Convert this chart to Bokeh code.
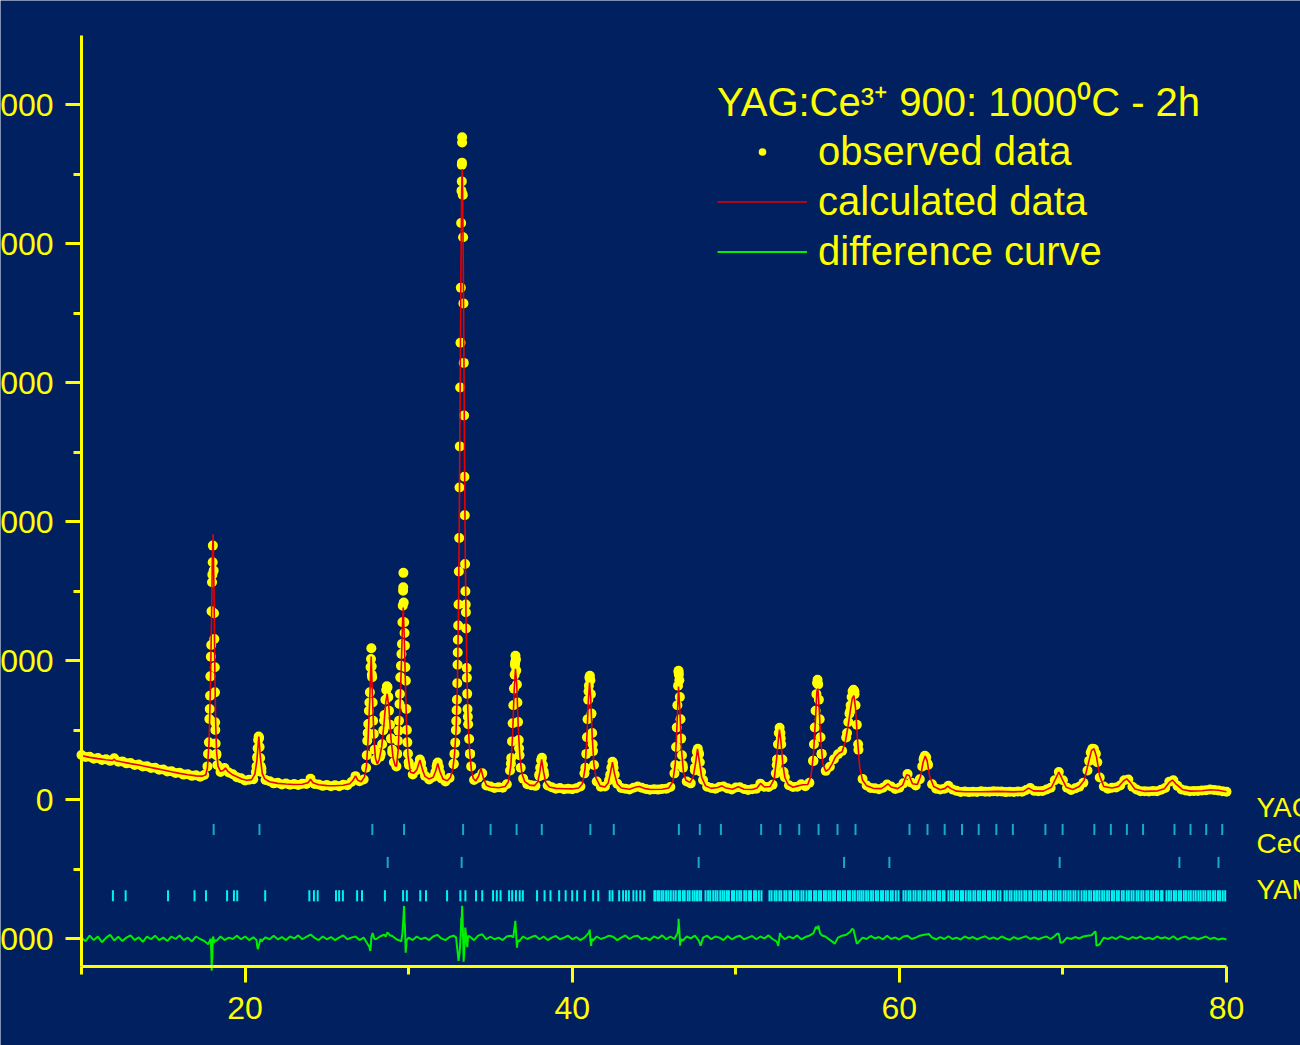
import numpy as np
from bokeh.plotting import figure
from bokeh.models import (Label, LinearAxis, FixedTicker, Legend, LegendItem, Range1d)
from bokeh.embed import file_html
from bokeh.resources import INLINE

# ---------------- data ----------------
x_major = [20, 40, 60, 80]
x_minor = [10, 30, 50, 70]
y_major = [-1000, 0, 1000, 2000, 3000, 4000, 5000]
y_minor = [-500, 500, 1500, 2500, 3500, 4500]
x_axis_span = (10, 80)
y_axis_span = (-1200, 5500)

# observed scan (2-theta from 10.00 in 0.25 deg steps)
scan_start, scan_step = 10.0, 0.25
obs_scan = [
    322, 308, 310, 296, 300, 287, 292, 280, 298, 274,
    276, 262, 264, 250, 254, 240, 242, 228, 230, 216,
    218, 204, 206, 192, 194, 181, 184, 172, 176, 166,
    178, 330, 1620, 330, 200, 228, 196, 184, 162, 154,
    138, 144, 148, 310, 225, 142, 134, 118, 122, 110,
    117, 108, 114, 106, 116, 114, 152, 114, 110, 100,
    106, 97, 105, 98, 108, 104, 128, 170, 134, 146,
    480, 900, 285, 310, 570, 740, 360, 240, 880, 1200,
    270, 182, 215, 266, 172, 146, 164, 258, 154, 132,
    156, 255, 1060, 4450, 1350, 330, 142, 158, 190, 102,
    95, 85, 90, 86, 112, 260, 970, 370, 152, 112,
    104, 100, 170, 205, 102, 90, 80, 84, 76, 80,
    75, 83, 95, 190, 780, 400, 132, 94, 95, 140,
    262, 116, 84, 80, 74, 86, 96, 86, 78, 72,
    76, 73, 78, 79, 92, 190, 920, 250, 132, 118,
    212, 330, 142, 94, 84, 80, 92, 96, 82, 74,
    88, 90, 78, 70, 76, 80, 116, 93, 92, 108,
    250, 440, 162, 104, 92, 94, 112, 98, 122, 280,
    840, 330, 208, 238, 292, 328, 352, 448, 640, 780,
    360, 150, 102, 84, 82, 76, 86, 110, 96, 78,
    86, 118, 185, 122, 102, 148, 300, 250, 112, 80,
    74, 80, 100, 74, 64, 56, 60, 55, 58, 56,
    62, 57, 58, 61, 60, 59, 55, 58, 56, 59,
    57, 70, 84, 64, 62, 63, 74, 86, 140, 200,
    140, 86, 70, 82, 94, 122, 210, 350, 330, 160,
    96, 80, 86, 88, 102, 140, 146, 94, 74, 62,
    61, 59, 63, 62, 72, 84, 130, 140, 100, 74,
    66, 61, 63, 63, 67, 69, 73, 70, 67, 62,
    58]

# observed points on the peaks (finer sampling)
obs_peak_tt = [
    17.70, 17.75, 17.79, 17.82, 17.84, 17.86, 17.88, 17.91, 17.93, 17.95,
    17.98, 18.02, 18.03, 18.08, 18.10, 18.12, 18.15, 18.16, 18.17, 18.18, 18.20, 18.24, 18.30,
    20.66, 20.70, 20.74, 20.77, 20.80, 20.83, 20.86, 20.89, 20.92, 20.96, 21.00,
    27.40, 27.44, 27.47, 27.50, 27.53, 27.57, 27.60, 27.63, 27.67, 27.70, 27.72, 27.74, 27.77, 27.80, 27.83, 27.87, 27.92, 27.98,
    28.30, 28.38, 28.45, 28.52, 28.58, 28.63, 28.67, 28.71, 28.75, 28.80, 28.86, 28.92, 29.00, 29.10,
    29.30, 29.34, 29.38, 29.41, 29.44, 29.47, 29.50, 29.53, 29.56, 29.59,
    29.62, 29.64, 29.66, 29.67, 29.68, 29.70, 29.73, 29.77, 29.80, 29.83,
    29.86, 29.89, 29.92, 29.96, 30.02,
    30.55, 30.62, 30.69, 30.76, 30.84, 31.64, 31.71, 31.78, 31.85, 31.92,
    32.75, 32.80, 32.85, 32.89, 32.91, 32.93, 32.95, 32.97, 32.99, 33.01,
    33.03, 33.05, 33.07, 33.09, 33.11, 33.13, 33.15, 33.17, 33.19, 33.21,
    33.23, 33.25, 33.26, 33.27, 33.27,
    33.31, 33.33, 33.35, 33.37, 33.39, 33.41, 33.43, 33.45, 33.47, 33.49,
    33.51, 33.55, 33.56, 33.58, 33.60, 33.62, 33.64, 33.70, 33.76, 33.82,
    36.20, 36.27, 36.32, 36.36, 36.40, 36.44, 36.48, 36.51, 36.53, 36.56, 36.58, 36.62, 36.65, 36.69, 36.73, 36.78, 36.85,
    37.98, 38.04, 38.10, 38.15, 38.21, 38.28,
    40.80, 40.86, 40.90, 40.94, 40.98, 41.02, 41.05, 41.08, 41.11, 41.14, 41.18, 41.22, 41.27, 41.33,
    42.32, 42.39, 42.46, 42.53, 42.60,
    46.30, 46.35, 46.39, 46.43, 46.47, 46.50, 46.52, 46.55, 46.58, 46.62, 46.66, 46.71, 46.77,
    47.50, 47.56, 47.62, 47.68, 47.74, 47.80, 47.88,
    52.45, 52.52, 52.58, 52.63, 52.68, 52.73, 52.78, 52.85, 52.92,
    54.72, 54.78, 54.83, 54.88, 54.93, 54.97, 55.00, 55.04, 55.08, 55.13, 55.18, 55.24,
    56.80, 56.88, 56.95, 57.02, 57.08, 57.14, 57.20, 57.26, 57.32, 57.40, 57.48,
    61.40, 61.48, 61.56, 61.64, 61.72,
    71.60, 71.70, 71.80, 71.90, 72.00, 72.10]
obs_peak_cnt = [
    240, 330, 413, 581, 653, 749, 888, 1030, 1114, 1356,
    1565, 1709, 1829, 1649, 1342, 1157, 953, 773, 557, 502, 405, 320, 250,
    200, 240, 300, 370, 430, 455, 445, 380, 300, 240, 200,
    230, 320, 425, 480, 545, 641, 700, 773, 953, 1013, 1090, 960, 881, 700, 569, 473, 360, 290,
    330, 400, 500, 610, 720, 790, 816, 810, 740, 640, 540, 440, 340, 270,
    330, 425, 497, 569, 689, 761, 881, 965, 1049, 1121,
    1277, 1397, 1505, 1529, 1633, 1420, 1277, 1109, 953, 857,
    653, 502, 413, 331, 250,
    220, 255, 290, 260, 215, 200, 240, 268, 235, 195,
    260, 330, 411, 501, 566, 644, 720, 839, 971, 1151,
    1254, 1405, 1643, 1884, 2247, 2543, 2967, 3289, 3685, 4151,
    4382, 4569, 4585, 4730, 4768,
    4353, 4048, 3572, 3144, 2765, 2324, 2048, 1697, 1500, 1405,
    1232, 948, 878, 762, 653, 598, 543, 437, 330, 240,
    210, 300, 420, 550, 680, 800, 900, 990, 1037, 1010, 930, 830, 700, 560, 430, 320, 230,
    180, 230, 285, 302, 250, 180,
    230, 330, 450, 580, 720, 820, 880, 893, 860, 760, 620, 480, 350, 250,
    180, 230, 274, 230, 180,
    250, 380, 520, 680, 820, 929, 900, 860, 740, 580, 440, 320, 230,
    230, 290, 345, 367, 330, 270, 200,
    190, 290, 400, 480, 518, 480, 400, 290, 200,
    280, 400, 520, 640, 760, 840, 864, 830, 720, 580, 450, 330,
    480, 560, 620, 680, 740, 780, 792, 760, 680, 540, 400,
    240, 290, 317, 305, 260,
    280, 340, 367, 365, 330, 270]

# calculated profile
calc_tt = [
    10.0, 10.5, 11.0, 11.5, 11.9, 12.0, 12.1, 12.5, 13.0, 13.5,
    14.0, 14.5, 15.0, 15.5, 16.0, 16.5, 17.0, 17.4, 17.6, 17.7,
    17.8, 17.88, 17.95, 18.0, 18.05, 18.1, 18.15, 18.2, 18.26, 18.35,
    18.5, 18.65, 18.8, 18.95, 19.2, 19.5, 19.8, 20.1, 20.4, 20.6,
    20.72, 20.84, 20.94, 21.05, 21.2, 21.5, 22.0, 22.5, 23.0, 23.5,
    23.85, 24.0, 24.15, 24.5, 25.0, 25.5, 26.0, 26.4, 26.6, 26.75,
    26.9, 27.1, 27.3, 27.42, 27.52, 27.62, 27.71, 27.8, 27.88, 27.97,
    28.08, 28.2, 28.35, 28.48, 28.6, 28.69, 28.8, 28.92, 29.05, 29.18,
    29.26, 29.36, 29.45, 29.55, 29.62, 29.67, 29.73, 29.8, 29.88, 29.96,
    30.1, 30.3, 30.5, 30.69, 30.85, 31.0, 31.24, 31.5, 31.65, 31.78,
    31.92, 32.1, 32.36, 32.55, 32.7, 32.8, 32.9, 32.97, 33.03, 33.09,
    33.15, 33.2, 33.24, 33.27, 33.3, 33.34, 33.38, 33.42, 33.46, 33.5,
    33.55, 33.6, 33.66, 33.74, 33.84, 33.95, 34.1, 34.28, 34.42, 34.56,
    34.75, 35.0, 35.5, 35.9, 36.1, 36.25, 36.35, 36.45, 36.53, 36.61,
    36.7, 36.8, 36.92, 37.1, 37.4, 37.7, 37.9, 38.02, 38.13, 38.25,
    38.38, 38.6, 39.0, 39.5, 40.0, 40.4, 40.62, 40.78, 40.9, 40.99,
    41.06, 41.13, 41.22, 41.32, 41.45, 41.7, 42.0, 42.2, 42.33, 42.46,
    42.58, 42.75, 43.0, 43.5, 43.9, 44.1, 44.4, 44.8, 45.5, 45.9,
    46.15, 46.3, 46.42, 46.5, 46.58, 46.68, 46.8, 46.95, 47.2, 47.4,
    47.55, 47.66, 47.78, 47.92, 48.15, 48.5, 48.9, 49.15, 49.4, 49.8,
    50.15, 50.5, 51.0, 51.3, 51.52, 51.75, 52.1, 52.35, 52.5, 52.6,
    52.67, 52.76, 52.87, 53.0, 53.2, 53.5, 53.8, 54.1, 54.4, 54.6,
    54.75, 54.88, 54.96, 55.02, 55.1, 55.2, 55.32, 55.5, 55.7, 55.9,
    56.1, 56.3, 56.5, 56.7, 56.85, 57.0, 57.12, 57.22, 57.32, 57.45,
    57.58, 57.75, 58.0, 58.4, 58.9, 59.15, 59.3, 59.5, 59.9, 60.2,
    60.45, 60.6, 60.8, 61.1, 61.3, 61.45, 61.58, 61.7, 61.85, 62.1,
    62.5, 62.8, 62.95, 63.15, 63.5, 64.0, 65.0, 66.0, 67.0, 67.6,
    67.9, 68.2, 68.8, 69.3, 69.55, 69.75, 69.95, 70.2, 70.6, 71.0,
    71.3, 71.55, 71.75, 71.9, 72.05, 72.25, 72.5, 73.0, 73.4, 73.7,
    73.9, 74.1, 74.4, 75.0, 75.8, 76.2, 76.5, 76.7, 76.9, 77.3,
    77.8, 78.5, 79.0, 79.5, 80.0]
calc_cnt = [
    318, 305, 296, 288, 283, 292, 281, 272, 260, 250,
    238, 226, 214, 202, 190, 180, 172, 170, 180, 230,
    420, 800, 1300, 1750, 1910, 1500, 950, 560, 340, 240,
    205, 210, 228, 205, 182, 165, 150, 140, 145, 185,
    280, 454, 300, 190, 150, 130, 118, 113, 110, 112,
    122, 148, 122, 108, 102, 101, 104, 115, 140, 172,
    140, 130, 165, 240, 430, 720, 1030, 700, 440, 300,
    257, 290, 380, 530, 700, 763, 650, 440, 300, 245,
    240, 360, 600, 950, 1250, 1383, 1180, 850, 500, 320,
    200, 190, 215, 286, 215, 168, 150, 162, 205, 262,
    200, 150, 137, 160, 220, 320, 500, 760, 1200, 1900,
    2950, 3850, 4380, 4540, 4380, 3850, 3150, 2400, 1800, 1380,
    1000, 720, 500, 330, 210, 155, 135, 170, 225, 160,
    105, 92, 86, 95, 130, 250, 450, 780, 943, 830,
    520, 310, 190, 130, 105, 102, 130, 200, 290, 200,
    125, 92, 82, 79, 78, 85, 115, 220, 460, 720,
    843, 730, 460, 260, 160, 100, 92, 120, 190, 270,
    190, 115, 85, 76, 92, 96, 82, 74, 76, 85,
    130, 260, 580, 814, 650, 360, 200, 140, 125, 165,
    270, 367, 270, 160, 100, 82, 88, 100, 84, 76,
    94, 76, 74, 85, 118, 92, 95, 150, 300, 430,
    505, 420, 260, 160, 110, 90, 100, 108, 110, 170,
    330, 600, 780, 800, 650, 420, 260, 205, 220, 260,
    310, 335, 345, 420, 520, 640, 730, 749, 660, 420,
    230, 140, 100, 82, 80, 100, 115, 92, 80, 105,
    180, 175, 115, 110, 170, 270, 315, 280, 170, 95,
    72, 82, 98, 80, 62, 58, 58, 60, 57, 60,
    84, 64, 62, 90, 150, 200, 150, 90, 74, 95,
    140, 260, 355, 367, 310, 170, 95, 84, 95, 135,
    150, 125, 78, 60, 64, 80, 125, 142, 115, 74,
    62, 65, 72, 68, 58]

# difference curve (offset to -1000), on the scan grid plus spikes
diff_scan = [
    -992, -1018, -978, -1010, -985, -1025, -994, -972, -1012, -986,
    -1016, -992, -976, -1010, -990, -1022, -984, -1004, -978, -1010,
    -992, -1016, -984, -1002, -976, -1010, -992, -1020, -984, -1002,
    -1016, -1040, -1150, -1016, -984, -1010, -992, -1002, -978, -1004,
    -984, -1010, -990, -1060, -1020, -990, -1004, -978, -1004, -988,
    -1010, -984, -998, -976, -1004, -986, -970, -994, -1010, -984,
    -1004, -988, -1010, -992, -976, -1004, -992, -984, -1010, -992,
    -1040, -980, -1004, -984, -970, -960, -980, -1004, -1016, -880,
    -992, -1010, -984, -1004, -992, -1010, -984, -972, -998, -1010,
    -988, -978, -1100, -850, -960, -986, -1010, -978, -968, -1004,
    -986, -1004, -992, -1010, -984, -978, -900, -1020, -984, -1002,
    -988, -978, -1004, -984, -1010, -992, -980, -1004, -992, -978,
    -1004, -988, -1010, -992, -960, -1016, -984, -1002, -992, -978,
    -986, -1010, -992, -976, -1002, -984, -978, -1004, -992, -1010,
    -984, -998, -976, -1004, -984, -1002, -900, -1016, -984, -998,
    -978, -1016, -992, -978, -1004, -984, -992, -1010, -980, -1004,
    -988, -978, -1004, -992, -980, -1004, -984, -998, -976, -1002,
    -1020, -975, -1004, -984, -998, -976, -1004, -988, -978, -960,
    -930, -975, -986, -1008, -1030, -992, -978, -972, -950, -960,
    -1025, -992, -1002, -980, -998, -988, -1004, -978, -1002, -990,
    -1006, -984, -978, -1002, -992, -978, -972, -968, -992, -1004,
    -988, -1002, -982, -1002, -992, -1006, -984, -998, -988, -1004,
    -992, -982, -1002, -990, -1004, -984, -998, -1008, -988, -1002,
    -992, -982, -1002, -990, -1004, -992, -984, -1002, -980, -965,
    -1025, -992, -1002, -988, -998, -984, -978, -975, -950, -1040,
    -992, -1002, -988, -1002, -982, -992, -1004, -988, -998, -984,
    -1002, -992, -1004, -984, -998, -990, -1002, -982, -1006, -992,
    -984, -1002, -990, -1004, -994, -984, -1002, -992, -1006, -998,
    -1005]
diff_spike_tt = [
    17.90, 17.93, 17.96, 17.99, 18.02, 18.06, 18.10, 18.15,
    20.70, 20.78, 20.86, 20.95,
    27.60, 27.66, 27.72, 27.80, 27.90,
    28.60, 28.70, 28.85,
    29.55, 29.62, 29.68, 29.72, 29.77, 29.82, 29.88,
    32.90, 32.96, 33.05, 33.12, 33.18, 33.22, 33.27, 33.31, 33.36, 33.41, 33.46, 33.52, 33.58, 33.64,
    36.40, 36.46, 36.52, 36.57, 36.62, 36.68,
    41.02, 41.07, 41.12, 41.16, 41.20,
    46.44, 46.50, 46.55, 46.60, 46.66,
    47.85, 52.60, 52.70, 54.90, 55.05, 55.15, 56.05, 57.10, 57.20, 57.40, 61.80, 69.65, 69.85, 71.96, 72.05]
diff_spike_cnt = [
    -1000, -1080, -1230, -1120, -1000, -985, -1030, -1010,
    -1010, -1075, -1040, -1000,
    -1060, -1088, -990, -960, -1000,
    -985, -955, -975,
    -1020, -960, -850, -764, -900, -1100, -1010,
    -990, -1060, -1160, -1100, -980, -850, -763, -900, -1165, -1080, -920, -990, -1060, -980,
    -990, -930, -871, -960, -1064, -1010,
    -960, -935, -1020, -1051, -1000,
    -960, -856, -940, -1050, -1000,
    -1051, -1051, -960, -915, -907, -960, -1037, -930, -935, -1037, -965, -964, -1030, -950, -1051]

# Bragg reflection positions
yag_pos = [18.08, 20.88, 27.78, 29.72, 33.33, 35.01, 36.60, 38.14, 41.11, 42.54,
           46.52, 47.80, 49.09, 51.55, 52.72, 53.88, 55.06, 56.22, 57.32, 60.62,
           61.72, 62.77, 63.83, 64.85, 65.93, 66.94, 68.93, 69.98, 71.92, 72.93,
           73.91, 74.90, 76.82, 77.80, 78.76, 79.74]
ceo2_pos = [28.72, 33.24, 47.73, 56.62, 59.39, 69.80, 77.12, 79.51]
yam_pos = [
    11.92, 12.70, 15.29, 16.91, 17.61, 18.90, 19.32, 19.52, 21.23, 23.93,
    24.21, 24.44, 25.56, 25.75, 25.98, 26.85, 27.15, 28.55, 29.66, 29.89,
    30.71, 31.06, 32.35, 33.16, 33.47, 34.12, 34.50, 35.16, 35.39, 35.62,
    36.14, 36.33, 36.56, 36.79, 36.98, 37.85, 38.31, 38.67, 39.20, 39.60,
    40.00, 40.30, 40.77, 41.28, 41.59, 42.29, 42.46, 42.87, 43.11, 43.29,
    43.46, 43.74, 43.93, 44.16, 44.40,
    45.02, 45.10, 45.24, 45.33, 45.47, 45.58, 45.74, 45.88, 46.03, 46.19,
    46.33, 46.51, 46.60, 46.77, 46.88, 47.06, 47.18, 47.36, 47.49, 47.63,
    47.77, 47.88, 48.15, 48.31, 48.44, 48.62, 48.76, 48.88, 49.05, 49.19,
    49.31, 49.46, 49.58, 49.77, 49.89, 50.06, 50.21, 50.33, 50.52, 50.64,
    50.81, 50.93, 51.12, 51.24, 51.41, 51.57,
    52.06, 52.19, 52.37, 52.49, 52.66, 52.78, 52.97, 53.09, 53.27, 53.38,
    53.56, 53.71, 53.83, 54.01, 54.14, 54.32, 54.48, 54.60, 54.79, 54.91,
    55.08, 55.21, 55.39, 55.51, 55.67, 55.79, 55.95, 56.07, 56.25, 56.38,
    56.55, 56.68, 56.86, 56.98, 57.15, 57.28, 57.45, 57.57, 57.69, 57.81,
    57.97, 58.10, 58.27, 58.40, 58.57, 58.70, 58.88, 59.00, 59.17, 59.30,
    59.48, 59.60, 59.78, 59.95,
    60.25, 60.39, 60.56, 60.68, 60.86, 60.99, 61.16, 61.28, 61.47, 61.59,
    61.76, 61.89, 62.06, 62.19, 62.37, 62.49, 62.66, 62.76,
    63.00, 63.16, 63.29, 63.46, 63.59, 63.77, 63.89, 64.06, 64.23,
    64.35, 64.52, 64.64, 64.81, 64.94, 65.11, 65.24, 65.42, 65.54, 65.71,
    65.84, 66.02, 66.18,
    66.43, 66.57, 66.74, 66.86, 67.04, 67.17, 67.33, 67.47, 67.64, 67.76,
    67.94, 68.06, 68.24, 68.37, 68.53, 68.67, 68.84, 68.96, 69.14, 69.27,
    69.43, 69.57, 69.74, 69.86, 70.04, 70.17, 70.33, 70.47, 70.64, 70.77,
    70.95, 71.14, 71.30, 71.43, 71.60, 71.73, 71.90, 72.04, 72.11,
    72.24, 72.40, 72.53, 72.70, 72.83, 73.00, 73.13, 73.30, 73.42, 73.60,
    73.72, 73.90, 74.03, 74.19, 74.32, 74.50, 74.62, 74.79, 74.92, 75.10,
    75.22, 75.39, 75.52, 75.69, 75.82, 76.00, 76.09,
    76.33, 76.48, 76.62, 76.79, 76.92, 77.09, 77.22, 77.39, 77.52, 77.68,
    77.82, 77.98, 78.12, 78.28, 78.42, 78.58, 78.71, 78.88, 79.01, 79.18,
    79.31, 79.48, 79.61, 79.77, 79.92]
phase_names = ["YAG", "CeO\u2082", "YAM"]

title_text = "YAG:Ce\u00b3\u207a 900: 1000\u2070C - 2h"
legend_labels = ["observed data", "calculated data", "difference curve"]

# ---------------- style ----------------
BG = "#002060"
YEL = "#FFFF00"
RED = "#E80000"
GRN = "#00EE00"
TEAL = "#18A8C8"
CYAN = "#00F2F2"
FONT = "Liberation Sans"

W, H = 1300, 1045
# the plotting frame covers the whole canvas; axes are drawn at fixed data locations
p = figure(width=W, height=H, x_range=Range1d(5.048, 84.524), y_range=Range1d(-1768.5, 5751.9),
           output_backend="svg", toolbar_location=None,
           x_axis_location=None, y_axis_location=None,
           background_fill_color=BG, border_fill_color=BG, outline_line_color=None,
           min_border_left=0, min_border_right=0, min_border_top=0, min_border_bottom=0)
p.xgrid.visible = False
p.ygrid.visible = False

def style_axis(ax, standoff):
    ax.axis_line_color = YEL
    ax.axis_line_width = 3
    ax.major_tick_line_color = YEL
    ax.major_tick_line_width = 3
    ax.major_tick_out = 16
    ax.major_tick_in = 0
    ax.minor_tick_line_color = YEL
    ax.minor_tick_line_width = 3
    ax.minor_tick_out = 8
    ax.minor_tick_in = 0
    ax.major_label_text_font = FONT
    ax.major_label_text_font_size = "32px"
    ax.major_label_text_color = YEL
    ax.major_label_standoff = standoff

xax = LinearAxis(fixed_location=y_axis_span[0], bounds=x_axis_span,
                 ticker=FixedTicker(ticks=x_major, minor_ticks=x_minor),
                 major_label_overrides={t: str(t) for t in x_major})
style_axis(xax, 14)
p.add_layout(xax, "below")
yax = LinearAxis(fixed_location=x_axis_span[0], bounds=y_axis_span,
                 ticker=FixedTicker(ticks=y_major, minor_ticks=y_minor),
                 major_label_overrides={t: str(t) for t in y_major})
style_axis(yax, 12)
p.add_layout(yax, "left")

# data
scan_tt = np.round(scan_start + scan_step * np.arange(len(obs_scan)), 3)
obs_x = list(scan_tt) + obs_peak_tt
obs_y = obs_scan + obs_peak_cnt
r_obs = p.scatter(obs_x, obs_y, size=10, fill_color=YEL, line_color=None)
r_calc = p.line(calc_tt, calc_cnt, line_color=RED, line_width=1.6)

diff_pts = sorted(list(zip(scan_tt.tolist(), diff_scan)) + list(zip(diff_spike_tt, diff_spike_cnt)))
r_diff = p.line([a for a, b in diff_pts], [b for a, b in diff_pts], line_color=GRN, line_width=2)

# reflection markers (one row per phase)
row_y = [-214, -451, -691]
half = 40
for pos, yc, col in ((yag_pos, row_y[0], TEAL), (ceo2_pos, row_y[1], TEAL), (yam_pos, row_y[2], CYAN)):
    p.segment(x0=pos, x1=pos, y0=[yc - half] * len(pos), y1=[yc + half] * len(pos),
              line_color=col, line_width=2)

# phase names at right
for name, yc in zip(phase_names, [-58, -317, -648]):
    p.add_layout(Label(x=81.83, y=yc, text=name, text_align="left", text_baseline="middle",
                       text_font=FONT, text_font_size="28px", text_color=YEL))

legend = Legend(items=[LegendItem(label=legend_labels[0], renderers=[r_obs]),
                       LegendItem(label=legend_labels[1], renderers=[r_calc]),
                       LegendItem(label=legend_labels[2], renderers=[r_diff])],
                location=(717, 771), title=title_text,
                title_text_font=FONT, title_text_font_size="40px", title_text_color=YEL,
                title_text_font_style="normal", title_standoff=1,
                label_text_font=FONT, label_text_font_size="40px", label_text_color=YEL,
                glyph_width=90, glyph_height=19, label_height=19, label_standoff=11,
                padding=0, spacing=5, margin=0,
                border_line_color=None, background_fill_alpha=0)
p.add_layout(legend)

open("out.html", "w").write(file_html(p, INLINE))
